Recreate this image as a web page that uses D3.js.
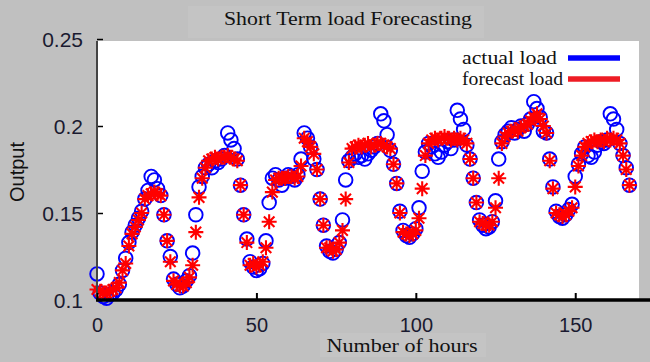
<!DOCTYPE html>
<html><head><meta charset="utf-8">
<script src="https://cdn.jsdelivr.net/npm/d3@7"></script>
<style>html,body{margin:0;padding:0;background:#c0c0c0;}svg{display:block;}</style>
</head><body>
<script>
// Actual load (blue circles), hour 0..167
const actual = [
0.115,0.104,0.102,0.101,0.103,0.104,0.106,0.109,0.117,0.124,0.133,0.139,0.143,0.147,0.151,0.158,0.163,0.171,0.169,0.164,0.160,0.149,0.134,0.125,
0.112,0.109,0.107,0.108,0.111,0.114,0.127,0.149,0.165,0.171,0.176,0.178,0.176,0.180,0.179,0.181,0.183,0.196,0.192,0.187,0.181,0.166,0.149,0.135,
0.122,0.119,0.117,0.118,0.121,0.134,0.156,0.170,0.172,0.169,0.166,0.170,0.172,0.171,0.169,0.172,0.181,0.196,0.193,0.188,0.181,0.175,0.158,0.143,
0.131,0.128,0.127,0.129,0.133,0.146,0.169,0.180,0.182,0.184,0.182,0.183,0.181,0.184,0.186,0.188,0.190,0.207,0.203,0.195,0.186,0.178,0.167,0.151,
0.140,0.137,0.136,0.138,0.141,0.153,0.174,0.185,0.190,0.188,0.184,0.182,0.185,0.189,0.191,0.187,0.192,0.209,0.204,0.198,0.189,0.181,0.170,0.156,
0.146,0.143,0.141,0.142,0.145,0.157,0.181,0.191,0.195,0.197,0.199,0.196,0.198,0.200,0.197,0.201,0.204,0.214,0.210,0.205,0.197,0.196,0.181,0.165,
0.151,0.148,0.147,0.149,0.152,0.155,0.171,0.178,0.184,0.188,0.183,0.182,0.185,0.189,0.191,0.190,0.192,0.207,0.204,0.198,0.190,0.183,0.176,0.166
];
// Forecast load (red asterisks)
const forecast = [
0.106,0.105,0.104,0.104,0.105,0.106,0.107,0.110,0.117,0.121,0.131,0.138,0.142,0.146,0.150,0.158,0.160,0.161,0.162,0.161,0.160,0.149,0.134,0.122,
0.111,0.109,0.108,0.108,0.110,0.113,0.120,0.139,0.159,0.170,0.176,0.180,0.181,0.182,0.181,0.182,0.182,0.183,0.182,0.181,0.180,0.166,0.149,0.133,
0.120,0.121,0.119,0.120,0.122,0.130,0.145,0.162,0.169,0.170,0.170,0.170,0.171,0.171,0.170,0.171,0.177,0.193,0.191,0.188,0.184,0.175,0.158,0.143,
0.130,0.130,0.128,0.129,0.133,0.140,0.158,0.179,0.187,0.188,0.189,0.188,0.189,0.190,0.188,0.189,0.190,0.190,0.189,0.188,0.187,0.178,0.167,0.150,
0.139,0.138,0.137,0.138,0.140,0.147,0.164,0.183,0.190,0.192,0.193,0.192,0.193,0.194,0.193,0.192,0.193,0.192,0.193,0.192,0.190,0.181,0.170,0.156,
0.145,0.144,0.143,0.143,0.145,0.153,0.170,0.190,0.194,0.196,0.197,0.198,0.197,0.199,0.200,0.201,0.203,0.205,0.207,0.204,0.200,0.196,0.180,0.164,
0.150,0.149,0.148,0.149,0.151,0.153,0.165,0.177,0.183,0.188,0.190,0.191,0.192,0.191,0.192,0.191,0.193,0.192,0.193,0.192,0.190,0.183,0.175,0.166
];
const xTicks = [0, 50, 100, 150];
const yTicks = [0.1, 0.15, 0.2, 0.25];
const yTickLabels = ["0.1", "0.15", "0.2", "0.25"];
const legendLabels = ["actual load", "forecast load"];
const legendColors = ["#0000ff", "#ee1c24"];
const title = "Short Term load Forecasting";
const xTitle = "Number of hours";
const yTitle = "Output";

const W = 650, H = 362;
const L = 97, R = 639, T = 41, B = 300;
const svg = d3.select("body").append("svg").attr("width", W).attr("height", H);
svg.append("rect").attr("width", W).attr("height", H).attr("fill", "#c0c0c0");

const x = d3.scaleLinear().domain([0, 170]).range([L, R]);
const y = d3.scaleLinear().domain([0.1, 0.25]).range([B, 39]);

// title box and title
svg.append("rect").attr("x", 188).attr("y", 6).attr("width", 296).attr("height", 32).attr("fill", "#c4c4c4");
svg.append("text").attr("x", 348).attr("y", 25).attr("text-anchor", "middle")
  .attr("font-family", "Liberation Serif, Times New Roman, serif").attr("font-size", 19)
  .attr("fill", "#111").attr("textLength", 248).attr("lengthAdjust", "spacingAndGlyphs").text(title);

// plot area
svg.append("rect").attr("x", L).attr("y", T).attr("width", R - L).attr("height", B - T).attr("fill", "#ffffff");

const g = svg.append("g");
// actual circles
g.selectAll("circle.a").data(actual).join("circle").attr("class", "a")
  .attr("cx", (d, i) => x(i)).attr("cy", d => y(d)).attr("r", 6.8)
  .attr("fill", "none").attr("stroke", "#0000ff").attr("stroke-width", 1.9);
// forecast asterisks
const star = "M-7.5,0H7.5M0,-7.5V7.5M-5.3,-5.3L5.3,5.3M-5.3,5.3L5.3,-5.3";
g.selectAll("path.f").data(forecast).join("path").attr("class", "f")
  .attr("transform", (d, i) => `translate(${x(i)},${y(d)})`).attr("d", star)
  .attr("fill", "none").attr("stroke", "#ff0000").attr("stroke-width", 2.1);

// left axis
const yAxis = d3.axisLeft(y).tickValues(yTicks).tickSize(-6).tickPadding(14).tickFormat((d, i) => yTickLabels[i]);
const ya = svg.append("g").attr("transform", `translate(${L},0)`).call(yAxis);
ya.select(".domain").remove();
ya.selectAll(".tick line").attr("stroke", "#000").attr("stroke-width", 1.5);
ya.selectAll(".tick text").attr("font-family", "Liberation Sans, Arial, sans-serif").attr("font-size", 21).attr("fill", "#1a1a30").attr("dy", "0.36em");
svg.append("line").attr("x1", L).attr("x2", L).attr("y1", T).attr("y2", B).attr("stroke", "#444").attr("stroke-width", 2);

// bottom axis
const xAxis = d3.axisBottom(x).tickValues(xTicks).tickSize(-7).tickPadding(18).tickFormat(d3.format("d"));
const xa = svg.append("g").attr("transform", `translate(0,${B})`).call(xAxis);
xa.select(".domain").remove();
xa.selectAll(".tick line").attr("stroke", "#000").attr("stroke-width", 2);
xa.selectAll(".tick text").attr("font-family", "Liberation Sans, Arial, sans-serif").attr("font-size", 20).attr("fill", "#1a1a30");
svg.append("line").attr("x1", L - 1).attr("x2", W).attr("y1", B).attr("y2", B).attr("stroke", "#000").attr("stroke-width", 3.5);

// axis titles
svg.append("rect").attr("x", 320).attr("y", 333).attr("width", 166).attr("height", 24).attr("fill", "#c4c4c4");
svg.append("text").attr("x", 402).attr("y", 352).attr("text-anchor", "middle")
  .attr("font-family", "Liberation Serif, Times New Roman, serif").attr("font-size", 19)
  .attr("fill", "#111").attr("textLength", 151).attr("lengthAdjust", "spacingAndGlyphs").text(xTitle);
svg.append("text").attr("transform", "translate(24,172) rotate(-90)").attr("text-anchor", "middle")
  .attr("font-family", "Liberation Sans, Arial, sans-serif").attr("font-size", 20)
  .attr("fill", "#111").text(yTitle);

// legend
const lg = svg.append("g");
legendLabels.forEach((lab, i) => {
  const yy = 58 + i * 21;
  lg.append("text").attr("x", 462).attr("y", yy + 6)
    .attr("font-family", "Liberation Serif, Times New Roman, serif").attr("font-size", 19)
    .attr("fill", "#111").attr("textLength", i === 0 ? 95 : 101).attr("lengthAdjust", "spacingAndGlyphs").text(lab);
  lg.append("line").attr("x1", 568).attr("x2", 620).attr("y1", yy).attr("y2", yy)
    .attr("stroke", legendColors[i]).attr("stroke-width", 5.5);
});
</script>
</body></html>
